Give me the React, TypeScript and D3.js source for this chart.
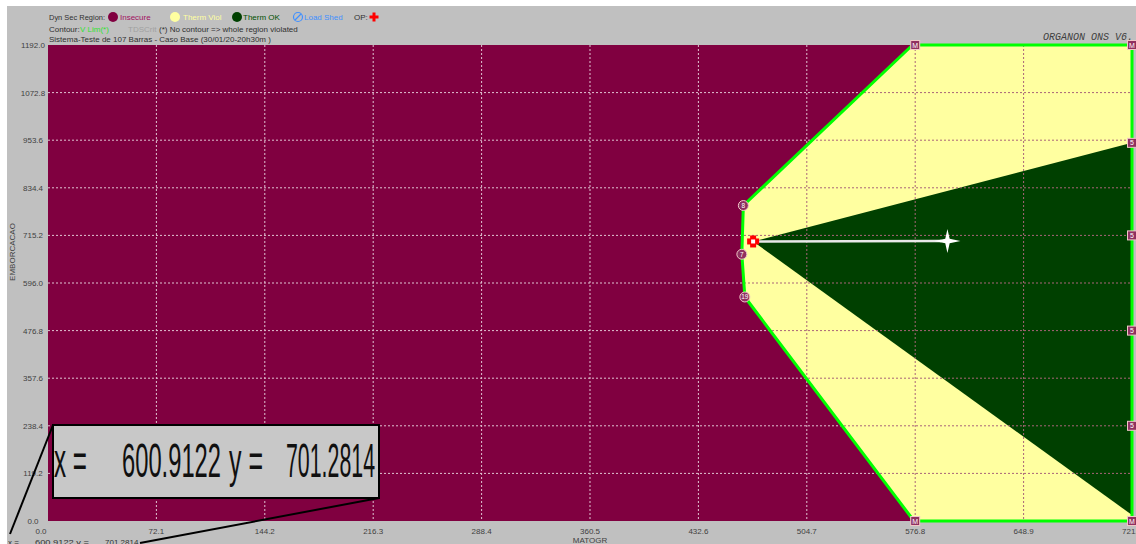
import React from "react";
import * as d3 from "d3";

const xTicks = [0.0, 72.1, 144.2, 216.3, 288.4, 360.5, 432.6, 504.7, 576.8, 648.9, 721.0];
const yTicks = [0.0, 119.2, 238.4, 357.6, 476.8, 596.0, 715.2, 834.4, 953.6, 1072.8, 1192.0];

// secure contour (Therm Viol + Therm OK region) vertices [MATOGR, EMBORCACAO]
const contourX = [462.5, 575.0, 721.0, 721.0, 576.0, 463.5, 461.5];
const contourY = [790.0, 1192.0, 1192.0, 0.0, 0.0, 561.0, 668.0];

// Therm OK wedge
const okX = [469.0, 721.0, 721.0];
const okY = [700.0, 947.0, 15.0];

const opPoint = [469.0, 700.0];
const targetPoint = [600.9122, 701.2814];

const sqMarkX = [576.8, 721.0, 721.0, 721.0, 721.0, 721.0, 721.0, 576.8];
const sqMarkY = [1192.0, 1192.0, 947.0, 715.2, 476.8, 238.4, 0.0, 0.0];
const sqMarkL = ["M", "M", "5", "5", "5", "5", "M", "M"];
const cMarkX = [462.5, 461.5, 463.5];
const cMarkY = [790.0, 668.0, 561.0];
const cMarkL = ["8", "7", "19"];

const C_INSECURE = "#800040";
const C_VIOL = "#ffffa0";
const C_OK = "#004000";
const C_LINE = "#00ff00";

export default function App() {
  const x = d3.scaleLinear().domain([0, 721]).range([48, 1132]);
  const y = d3.scaleLinear().domain([0, 1192]).range([521, 45]);
  const line = d3.line<number[]>().x((d) => x(d[0])).y((d) => y(d[1]));
  const contour = contourX.map((v, i) => [v, contourY[i]]);
  const ok = okX.map((v, i) => [v, okY[i]]);
  const contourPath = line(contour) + "Z";
  const okPath = line(ok) + "Z";
  const font = "'Liberation Sans', Arial, sans-serif";
  const innerX = xTicks.slice(1, -1);
  const innerY = yTicks.slice(1, -1);
  const grid = (stroke: string) => (
    <g stroke={stroke} strokeWidth={1} strokeDasharray="2,2">
      {innerX.map((t) => (
        <line key={"gx" + t} x1={x(t)} x2={x(t)} y1={y(1192)} y2={y(0)} />
      ))}
      {innerY.map((t) => (
        <line key={"gy" + t} x1={x(0)} x2={x(721)} y1={y(t)} y2={y(t)} />
      ))}
    </g>
  );
  const ox = x(opPoint[0]);
  const oy = y(opPoint[1]);
  const sx = x(targetPoint[0]);
  const sy = y(targetPoint[1]);
  const star = "M0,-12 L2.2,-2.2 L13,0 L2.2,2.2 L0,12 L-2.2,2.2 L-13,0 L-2.2,-2.2 Z";
  return (
    <svg width={1136} height={544} style={{ position: "absolute", left: 0, top: 0 }}>
      <defs>
        <clipPath id="contourClip">
          <path d={contourPath} />
        </clipPath>
      </defs>
      <rect x={0} y={0} width={1136} height={544} fill="#ffffff" />
      <rect x={7} y={6} width={1129} height={538} fill="#c0c0c0" />

      {/* header legend */}
      <g fontFamily={font} fontSize={8} fill="#303030">
        <text x={49} y={20} textLength={56} lengthAdjust="spacingAndGlyphs">Dyn Sec Region:</text>
        <circle cx={113} cy={17} r={5} fill={C_INSECURE} />
        <text x={120} y={20} fill="#a01060">Insecure</text>
        <circle cx={175} cy={17} r={5} fill={C_VIOL} />
        <text x={183} y={20} fill="#ffffa0">Therm Viol</text>
        <circle cx={237} cy={17} r={5} fill={C_OK} />
        <text x={243} y={20} fill="#005000">Therm OK</text>
        <circle cx={298} cy={17} r={4.5} fill="none" stroke="#4090ff" strokeWidth={1.2} />
        <line x1={295} y1={20} x2={301} y2={14} stroke="#4090ff" strokeWidth={1.2} />
        <text x={304} y={20} fill="#4090ff">Load Shed</text>
        <text x={354} y={20}>OP:</text>
        <rect x={369.5} y={15.5} width={9} height={3} fill="#ff0000" />
        <rect x={372.5} y={12.5} width={3} height={9} fill="#ff0000" />
        <text x={49} y={32}>Contour:</text>
        <text x={80} y={32} fill="#30e030">V Lim(*)</text>
        <text x={128} y={32} fill="#a0a0a0">TDSCrit</text>
        <text x={159} y={32}>(*) No contour =&gt; whole region violated</text>
        <text x={49} y={42}>Sistema-Teste de 107 Barras - Caso Base (30/01/20-20h30m )</text>
      </g>
      <text x={1043} y={40} fontFamily="'Liberation Mono', 'DejaVu Sans Mono', monospace" fontStyle="italic" fontSize={10} fill="#404040">
        ORGANON ONS V6.
      </text>

      {/* plot area */}
      <rect x={x(0)} y={y(1192)} width={x(721) - x(0)} height={y(0) - y(1192)} fill={C_INSECURE} />
      {grid("#e0c4d2")}
      <path d={contourPath} fill={C_VIOL} />
      <path d={okPath} fill={C_OK} clipPath="url(#contourClip)" />
      <g clipPath="url(#contourClip)">{grid("#a86478")}</g>
      <path d={contourPath} fill="none" stroke={C_LINE} strokeWidth={3} strokeLinejoin="round" />

      {/* vertex markers */}
      {sqMarkX.map((v, i) => (
        <g key={"sq" + i} transform={`translate(${x(v)},${y(sqMarkY[i])})`}>
          <rect x={-4.5} y={-4.5} width={9} height={9} fill="#903060" stroke="#f0c8c8" strokeWidth={1} />
          <text y={2.5} textAnchor="middle" fontFamily={font} fontSize={7} fill="#ffffff">{sqMarkL[i]}</text>
        </g>
      ))}
      {cMarkX.map((v, i) => (
        <g key={"c" + i} transform={`translate(${x(v)},${y(cMarkY[i])})`}>
          <circle r={5} fill="#903060" stroke="#f0c8c8" strokeWidth={1} />
          <text y={2.5} textAnchor="middle" fontFamily={font} fontSize={6.5} fill="#ffffff">{cMarkL[i]}</text>
        </g>
      ))}

      {/* OP -> target */}
      <line x1={ox} y1={oy} x2={sx - 10} y2={sy} stroke="#e8e8e8" strokeWidth={2.5} />
      <path d={star} transform={`translate(${sx - 4},${sy})`} fill="#ffffff" />
      <g transform={`translate(${ox},${oy})`}>
        <rect x={-6} y={-3} width={12} height={6} fill="#ff0000" />
        <rect x={-3} y={-6} width={6} height={12} fill="#ff0000" />
        <rect x={-2} y={-2} width={4} height={4} fill="#ffffff" />
      </g>

      {/* axes labels */}
      <g fontFamily={font} fontSize={8} fill="#404040">
        {yTicks.map((t) => (
          <text key={"yl" + t} x={33} y={y(t) + 3} textAnchor="middle">{t.toFixed(1)}</text>
        ))}
        {xTicks.map((t) => (
          <text key={"xl" + t} x={x(t) - (t === 0 ? 7 : 0)} y={534} textAnchor="middle">{t.toFixed(1)}</text>
        ))}
        <text x={590} y={543} textAnchor="middle">MATOGR</text>
        <text transform="translate(15,252) rotate(-90)" textAnchor="middle">EMBORCACAO</text>
      </g>

      {/* zoom callout */}
      <line x1={10} y1={534} x2={53} y2={425} stroke="#000000" strokeWidth={2} />
      <line x1={379} y1={498} x2={140} y2={543} stroke="#000000" strokeWidth={2} />
      <rect x={53} y={425} width={326} height={73} fill="#c8c8c8" stroke="#000000" strokeWidth={2} />
      <g fontFamily={font} fontSize={48} fill="#101010">
        <text x={54} y={477} textLength={33} lengthAdjust="spacingAndGlyphs">x =</text>
        <text x={122} y={477} textLength={99} lengthAdjust="spacingAndGlyphs">600.9122</text>
        <text x={229} y={477} textLength={34} lengthAdjust="spacingAndGlyphs">y =</text>
        <text x={286} y={477} textLength={89} lengthAdjust="spacingAndGlyphs">701.2814</text>
      </g>
      <g fontFamily={font} fontSize={8} fill="#303030">
        <text x={8} y={545}>x =</text>
        <text x={35} y={545} textLength={54} lengthAdjust="spacingAndGlyphs">600.9122 y =</text>
        <text x={105} y={545}>701.2814</text>
      </g>
    </svg>
  );
}
